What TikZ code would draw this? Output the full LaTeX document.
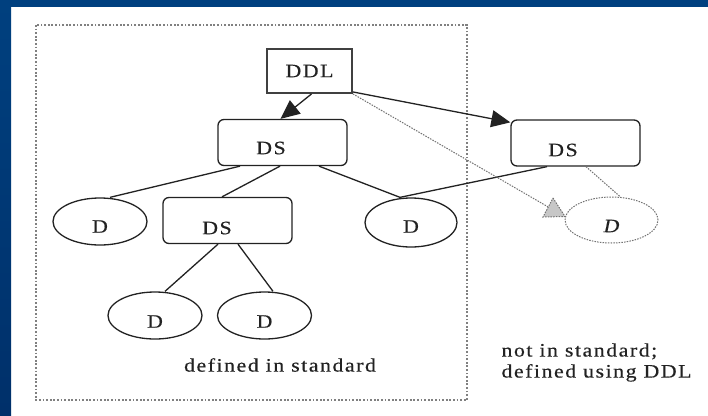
\documentclass[tikz,border=0pt]{standalone}
\usepackage{fontspec}
\setmainfont{Liberation Serif}
\newfontfamily\figfont[FakeStretch=1.15,LetterSpace=8,FakeBold=0.4]{Liberation Serif}
\usetikzlibrary{arrows.meta,shapes.geometric}
\definecolor{frameblue}{HTML}{00407F}
\definecolor{frameblue2}{HTML}{00306A}
\definecolor{ink}{HTML}{222222}
\tikzset{
  every node/.style={font=\figfont\fontsize{19}{21}\selectfont, text=ink},
  dsbox/.style={draw=ink, line width=1.3pt, rounded corners=6pt,
    minimum width=129pt, minimum height=46pt, inner sep=0pt},
  ddlbox/.style={draw=black!75, line width=1.9pt,
    minimum width=85pt, minimum height=44pt, inner sep=0pt},
  dell/.style={ellipse, draw=ink, line width=1.3pt,
    minimum width=94pt, minimum height=47pt, inner sep=0pt},
  extell/.style={ellipse, draw=black!55, line width=1pt, dash pattern=on 1.5pt off 1.2pt,
    minimum width=93pt, minimum height=46pt, inner sep=0pt},
  link/.style={draw=ink, line width=1.3pt},
  extlink/.style={draw=black!55, line width=1pt, dash pattern=on 1.5pt off 1.2pt},
  owns/.style={link, -{Triangle[length=19pt,width=17pt]}},
  stdframe/.style={draw=black!50, line width=1.6pt, dash pattern=on 1.8pt off 1.8pt},
}
\begin{document}
\begin{tikzpicture}[x=1pt, y=-1pt]
  \useasboundingbox (0,0) rectangle (708,415);
  % page background with blue edge bands
  \fill[white] (0,0) rectangle (708,415);
  \fill[frameblue] (0,0) rectangle (708,7);
  \shade[top color=frameblue, bottom color=frameblue2] (0,0) rectangle (11,415);

  % region of elements defined in the standard
  \draw[stdframe] (36,25) rectangle (467,400);

  % description definition language and description schemes
  \node[ddlbox] (ddl) at (309.5,71) {DDL};
  \node[dsbox, label={[xshift=-11.5pt, yshift=-5.5pt]center:DS}] (dstop) at (282.5,142.5) {};
  \node[dsbox, label={[xshift=-12.5pt, yshift=-7pt]center:DS}] (dsright) at (575.5,143) {};
  \node[dsbox, label={[xshift=-10.5pt, yshift=-7.5pt]center:DS}] (dsmid) at (227.5,220.5) {};

  % descriptors
  \node[dell, label={[yshift=-5pt]center:D}] (dleft) at (100,221.5) {};
  \node[dell, minimum width=92pt, minimum height=49pt, label={[yshift=-4pt]center:D}] (dright) at (411,222.5) {};
  \node[dell, label={[yshift=-6pt]center:D}] (dbl) at (155,315.5) {};
  \node[dell, label={[yshift=-6pt]center:D}] (dbr) at (264.5,315.5) {};
  \node[extell, label={[yshift=-6pt, font=\figfont\itshape\fontsize{19}{21}\selectfont]center:D}] (dext) at (611.5,220) {};

  % structure links
  \draw[owns] ([xshift=2pt]ddl.south) -- ([xshift=-2pt]dstop.north);
  \draw[owns] ([yshift=2pt]ddl.south east) -- ([yshift=-3pt]dsright.north west);
  \draw[link] ([xshift=-42.5pt]dstop.south) -- ([xshift=10pt]dleft.north);
  \draw[link] ([xshift=-2.5pt]dstop.south) -- ([xshift=-5.5pt]dsmid.north);
  \draw[link] ([xshift=36.5pt]dstop.south) -- ([xshift=-11pt]dright.north);
  \draw[link] ([xshift=-28.5pt]dsright.south) -- ([xshift=-11pt]dright.north);
  \draw[link] ([xshift=-9.5pt]dsmid.south) -- ([xshift=10pt]dbl.north);
  \draw[link] ([xshift=10.5pt]dsmid.south) -- ([xshift=8.5pt]dbr.north);

  % extension links
  \draw[extlink] ([xshift=10.5pt]dsright.south) -- ([xshift=8.5pt]dext.north);
  \coordinate (gen) at (550,208);
  \draw[extlink] (ddl.south east) -- (gen);
  \filldraw[fill=black!22, extlink] (553,198) -- (565,216.5) -- (543,217) -- cycle;

  % captions
  \node (stdcap) at (280,365) {defined in standard};
  \node[anchor=west, align=left] (extcap) at (498,362.5) {not in standard;\\defined using DDL};
\end{tikzpicture}
\end{document}
